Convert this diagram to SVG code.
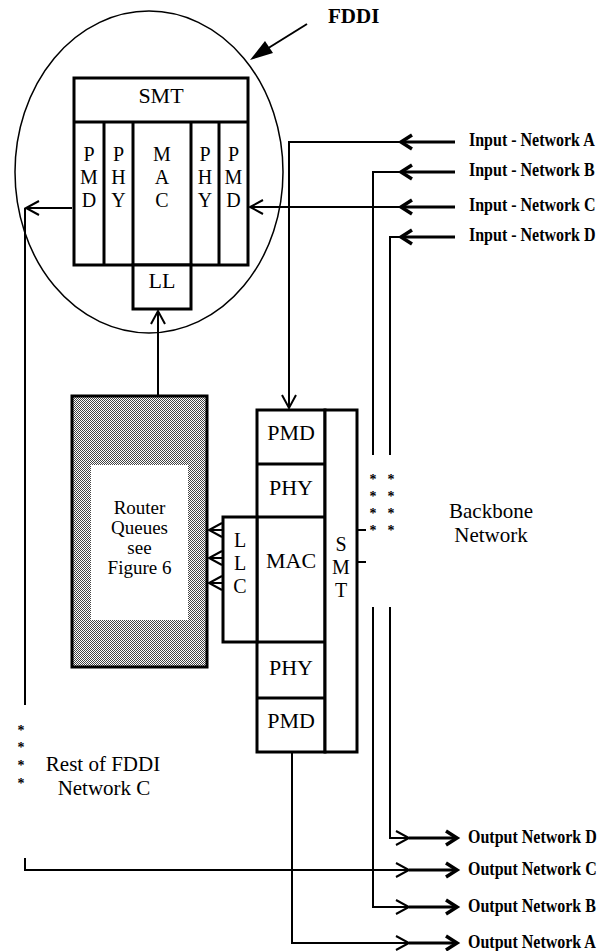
<svg xmlns="http://www.w3.org/2000/svg" width="605" height="951" viewBox="0 0 605 951">
<style>
.box{fill:#fff;stroke:#000;stroke-width:3}
.div{stroke:#000;stroke-width:3;fill:none}
.ln{stroke:#000;stroke-width:2;fill:none}
.thk{stroke:#000;stroke-width:3;fill:none}
.t{font-family:"Liberation Serif","Times New Roman",serif;font-size:22px;fill:#000;text-anchor:middle}
.m{font-family:"Liberation Serif","Times New Roman",serif;font-size:21px;fill:#000;text-anchor:middle}
.v{font-family:"Liberation Serif","Times New Roman",serif;font-size:20px;fill:#000;text-anchor:middle}
.r{font-family:"Liberation Serif","Times New Roman",serif;font-size:19px;fill:#000;text-anchor:middle}
.s{font-family:"Liberation Serif","Times New Roman",serif;font-size:16px;font-weight:bold;fill:#000}
.st{font-family:"Liberation Serif","Times New Roman",serif;font-size:14px;font-weight:bold;fill:#000;text-anchor:middle}
</style>
<defs>
<marker id="open" markerUnits="userSpaceOnUse" markerWidth="20" markerHeight="20" refX="13" refY="7" orient="auto" overflow="visible">
<path d="M0,0 L13,7 L0,14" fill="none" stroke="#000" stroke-width="2"/>
</marker>
<marker id="bold" markerUnits="userSpaceOnUse" markerWidth="20" markerHeight="20" refX="11" refY="7" orient="auto" overflow="visible">
<path d="M0,0 L11,7 L0,14" fill="none" stroke="#000" stroke-width="3.5"/>
</marker>
<pattern id="dots" width="2" height="2" patternUnits="userSpaceOnUse">
<rect width="2" height="2" fill="#fff"/>
<rect width="1" height="1" fill="#444"/>
<rect x="1" y="1" width="1" height="1" fill="#444"/>
</pattern>
</defs>
<rect width="605" height="951" fill="#fff"/>

<g id="fddi-ring">
<ellipse cx="149" cy="172" rx="134" ry="161" fill="none" stroke="#000" stroke-width="1.5"/>
<text x="328" y="23" class="t" style="text-anchor:start;font-weight:bold;font-size:21px">FDDI</text>
<line x1="307" y1="24" x2="262" y2="52" stroke="#000" stroke-width="2"/>
<polygon points="250,60 273,53 265,41" fill="#000"/>
</g>

<g id="fddi-stack">
<rect x="74" y="78" width="174" height="187" class="box"/>
<line x1="74" y1="122" x2="248" y2="122" class="div"/>
<line x1="104" y1="122" x2="104" y2="265" class="div"/>
<line x1="133" y1="122" x2="133" y2="265" class="div"/>
<line x1="191" y1="122" x2="191" y2="265" class="div"/>
<line x1="219" y1="122" x2="219" y2="265" class="div"/>
<text x="161" y="103" class="t">SMT</text>
<text x="89" y="161" class="v">P</text><text x="89" y="184" class="v">M</text><text x="89" y="207" class="v">D</text>
<text x="118.5" y="161" class="v">P</text><text x="118.5" y="184" class="v">H</text><text x="118.5" y="207" class="v">Y</text>
<text x="162" y="161" class="v">M</text><text x="162" y="184" class="v">A</text><text x="162" y="207" class="v">C</text>
<text x="205" y="161" class="v">P</text><text x="205" y="184" class="v">H</text><text x="205" y="207" class="v">Y</text>
<text x="233.5" y="161" class="v">P</text><text x="233.5" y="184" class="v">M</text><text x="233.5" y="207" class="v">D</text>
</g>

<g id="fddi-ll">
<rect x="133" y="265" width="58" height="44" class="box"/>
<text x="162" y="288" class="t">LL</text>
</g>

<g id="router">
<rect x="72" y="396" width="135" height="271" fill="url(#dots)" stroke="#000" stroke-width="3"/>
<rect x="91" y="465" width="97" height="155" fill="#fff"/>
<text x="139.5" y="514" class="r">Router</text>
<text x="139.5" y="534" class="r">Queues</text>
<text x="139.5" y="554" class="r">see</text>
<text x="139.5" y="574" class="r">Figure 6</text>
</g>

<g id="backbone-stack">
<rect x="257" y="410" width="68" height="342" class="box"/>
<rect x="325" y="410" width="32" height="342" class="box"/>
<line x1="257" y1="464" x2="325" y2="464" class="div"/>
<line x1="257" y1="517" x2="325" y2="517" class="div"/>
<line x1="257" y1="642" x2="325" y2="642" class="div"/>
<line x1="257" y1="698" x2="325" y2="698" class="div"/>
<text x="291" y="440" class="t">PMD</text>
<text x="291" y="495" class="t">PHY</text>
<text x="291" y="568" class="t">MAC</text>
<text x="291" y="675" class="t">PHY</text>
<text x="291" y="728" class="t">PMD</text>
<text x="341" y="551" class="v">S</text>
<text x="341" y="574" class="v">M</text>
<text x="341" y="597" class="v">T</text>
<line x1="357" y1="530" x2="366" y2="530" class="ln"/>
<line x1="357" y1="562" x2="366" y2="562" class="ln"/>
</g>

<g id="backbone-llc">
<rect x="223" y="517" width="34" height="125" class="box"/>
<text x="240" y="547" class="v">L</text>
<text x="240" y="570" class="v">L</text>
<text x="240" y="593" class="v">C</text>
</g>

<g id="labels">
<text x="491" y="518" class="m">Backbone</text>
<text x="491" y="542" class="m">Network</text>
<text x="103" y="771" class="m">Rest of FDDI</text>
<text x="104" y="795" class="m">Network C</text>
<text x="21" y="735" class="st">*</text>
<text x="21" y="752" class="st">*</text>
<text x="21" y="770" class="st">*</text>
<text x="21" y="788" class="st">*</text>
<text x="373" y="484" class="st">*</text><text x="391" y="484" class="st">*</text>
<text x="373" y="501" class="st">*</text><text x="391" y="501" class="st">*</text>
<text x="373" y="518" class="st">*</text><text x="391" y="518" class="st">*</text>
<text x="373" y="535" class="st">*</text><text x="391" y="535" class="st">*</text>
<text class="s" transform="translate(469,146) scale(1,1.2)">Input - Network A</text>
<text class="s" transform="translate(469,176) scale(1,1.2)">Input - Network B</text>
<text class="s" transform="translate(469,211) scale(1,1.2)">Input - Network C</text>
<text class="s" transform="translate(469,241) scale(1,1.2)">Input - Network D</text>
<text class="s" transform="translate(468,843) scale(1,1.2)">Output Network D</text>
<text class="s" transform="translate(468,875) scale(1,1.2)">Output Network C</text>
<text class="s" transform="translate(468,912) scale(1,1.2)">Output Network B</text>
<text class="s" transform="translate(468,948) scale(1,1.2)">Output Network A</text>
</g>

<g id="connectors">
<path d="M455,142 L401,142" class="thk" marker-end="url(#bold)"/>
<path d="M400,142 L289,142 L289,408" class="ln" marker-end="url(#open)"/>
<path d="M455,172 L401,172" class="thk" marker-end="url(#bold)"/>
<path d="M400,172 L373,172 L373,455" class="ln"/>
<path d="M455,207 L401,207" class="thk" marker-end="url(#bold)"/>
<path d="M400,207 L250,207" class="ln" marker-end="url(#open)"/>
<path d="M455,237 L401,237" class="thk" marker-end="url(#bold)"/>
<path d="M400,237 L390,237 L390,455" class="ln"/>
<path d="M72,208 L26,208" class="ln" marker-end="url(#open)"/>
<path d="M25,208 L25,705" class="ln"/>
<path d="M158,396 L158,311" class="ln" marker-end="url(#open)"/>
<path d="M223,530 L209,530" class="ln" marker-end="url(#open)"/>
<path d="M223,558 L209,558" class="ln" marker-end="url(#open)"/>
<path d="M223,583 L209,583" class="ln" marker-end="url(#open)"/>
<path d="M390,607 L390,838 L409,838" class="ln" marker-end="url(#open)"/>
<path d="M409,838 L457,838" class="thk" marker-end="url(#bold)"/>
<path d="M25,858 L25,870 L409,870" class="ln" marker-end="url(#open)"/>
<path d="M409,870 L457,870" class="thk" marker-end="url(#bold)"/>
<path d="M373,607 L373,907 L409,907" class="ln" marker-end="url(#open)"/>
<path d="M409,907 L457,907" class="thk" marker-end="url(#bold)"/>
<path d="M292,752 L292,943 L409,943" class="ln" marker-end="url(#open)"/>
<path d="M409,943 L457,943" class="thk" marker-end="url(#bold)"/>
</g>
</svg>
